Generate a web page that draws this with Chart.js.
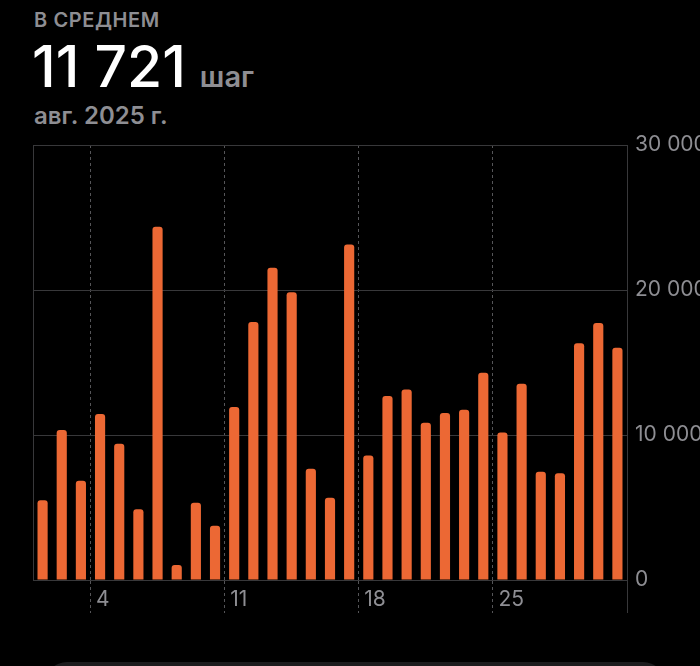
<!DOCTYPE html>
<html>
<head>
<meta charset="utf-8">
<script src="https://cdn.jsdelivr.net/npm/chart.js@4"></script>
<style>
  html, body { margin: 0; padding: 0; background: #000; overflow: hidden; }
  body { width: 700px; height: 666px; position: relative; font-family: Inter, "Noto Sans", sans-serif; }
  .label { position: absolute; left: 34px; top: 8px; font-size: 20px; font-weight: 600; color: #8e8e93; letter-spacing: 0.6px; }
  .big { position: absolute; left: 32px; top: 32px; font-size: 57px; font-weight: 500; color: #fff; }
  .big span { font-size: 29px; font-weight: 600; color: #8e8e93; margin-left: 14px; }
  .period { position: absolute; left: 34px; top: 101px; font-size: 24px; font-weight: 600; color: #8e8e93; }
  .wrap { position: absolute; left: 0; top: 100px; width: 707px; height: 540px; }
  .card { position: absolute; left: 45px; top: 662px; width: 620px; height: 60px; background: #1c1c1e; border-radius: 22px; }
</style>
</head>
<body>
<div class="label">В СРЕДНЕМ</div>
<div class="big">11 721<span>шаг</span></div>
<div class="period">авг. 2025 г.</div>
<div class="wrap"><canvas id="myChart" width="707" height="540"></canvas></div>
<div class="card"></div>
<script>
// august 2025, steps per day
const days = ["1","2","3","4","5","6","7","8","9","10","11","12","13","14","15","16",
  "17","18","19","20","21","22","23","24","25","26","27","28","29","30","31"];
const steps = [5500, 10350, 6850, 11450, 9400, 4880, 24370, 1030, 5330, 3750, 11930,
  17790, 21540, 19840, 7680, 5680, 23130, 8580, 12690, 13130, 10850, 11520, 11750,
  14300, 10180, 13540, 7470, 7360, 16320, 17720, 16020];
const weekLabels = ["4", "11", "18", "25"];
const yTicks = [0, 10000, 20000, 30000];

const weekIdx = weekLabels.map(l => days.indexOf(l));
const isWeek = (c) => weekIdx.includes(c.index);

var ctx = document.getElementById("myChart");
var myChart = new Chart(ctx, {
  type: "bar",
  data: {
    labels: days,
    datasets: [{
      data: steps,
      backgroundColor: "#ec6834",
      borderRadius: { topLeft: 3, topRight: 3 },
      borderSkipped: "start",
      barPercentage: 0.53,
      categoryPercentage: 1,
    }],
  },
  options: {
    responsive: false,
    animation: false,
    layout: { padding: { left: 33, top: 45, right: 0, bottom: 0 } },
    plugins: { legend: false, tooltip: { enabled: false } },
    scales: {
      x: {
        offset: true,
        grid: {
          offset: true,
          drawTicks: true,
          tickLength: 33,
          color: (c) => {
            // left and right edges are solid
            if (c.index === undefined || c.index === 0) return "#38383a";
            return isWeek(c) ? "#555558" : "transparent";
          },
          tickColor: (c) => {
            if (c.index === undefined) return "#38383a";
            return isWeek(c) ? "#555558" : "transparent";
          },
          tickBorderDash: (c) => (isWeek(c) ? [3, 3] : []),
        },
        border: {
          display: true,
          color: "#38383a",
          dash: (c) => (isWeek(c) ? [3, 3] : []),
        },
        ticks: {
          autoSkip: false,
          maxRotation: 0,
          align: "start",
          labelOffset: -4,
          padding: -26,
          color: "#8e8e93",
          font: { family: "Inter", size: 21 },
          callback: function (v, i) {
            const l = days[i];
            return weekLabels.includes(l) ? l : "";
          },
        },
        afterFit: (s) => { s.height = 60; },
      },
      y: {
        position: "right",
        min: yTicks[0],
        max: yTicks[yTicks.length - 1],
        afterBuildTicks: (s) => { s.ticks = yTicks.map(v => ({ value: v })); },
        grid: { color: "#38383a", drawTicks: false },
        border: { display: true, color: "#38383a" },
        ticks: {
          padding: 8,
          color: "#8e8e93",
          font: { family: "Inter", size: 21 },
          callback: (v) => v.toLocaleString("ru-RU").replace(/\s/g, " "),
        },
        afterFit: (s) => { s.width = 80; },
      },
    },
  },
});
</script>
</body>
</html>
